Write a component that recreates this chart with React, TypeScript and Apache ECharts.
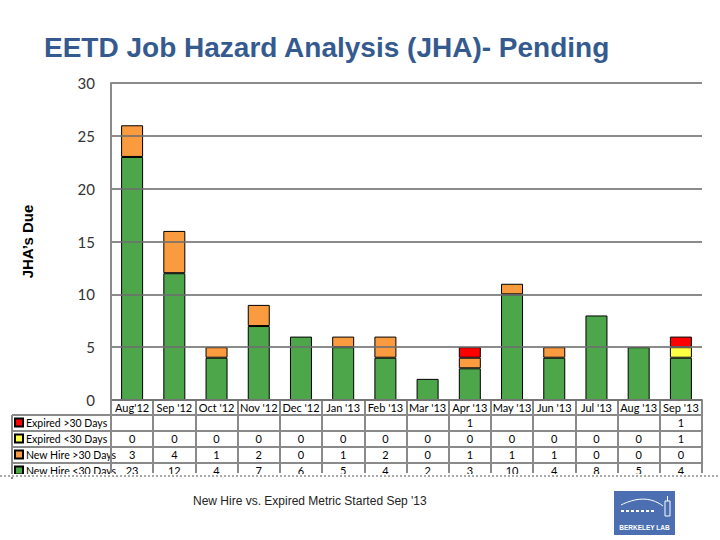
import React, { useEffect, useRef } from "react";
import * as echarts from "echarts";

const months = ["Aug'12", "Sep '12", "Oct '12", "Nov '12", "Dec '12", "Jan '13", "Feb '13", "Mar '13", "Apr '13", "May '13", "Jun '13", "Jul '13", "Aug '13", "Sep '13"];
const newHireUnder30: (number | null)[] = [23, 12, 4, 7, 6, 5, 4, 2, 3, 10, 4, 8, 5, 4];
const newHireOver30: (number | null)[] = [3, 4, 1, 2, 0, 1, 2, 0, 1, 1, 1, 0, 0, 0];
const expiredUnder30: (number | null)[] = [0, 0, 0, 0, 0, 0, 0, 0, 0, 0, 0, 0, 0, 1];
const expiredOver30: (number | null)[] = [null, null, null, null, null, null, null, null, 1, null, null, null, null, 1];

const seriesNames = ["New Hire <30 Days", "New Hire >30 Days", "Expired <30 Days", "Expired >30 Days"];
const seriesColors = ["#4EA64A", "#FB9B3F", "#FFFF44", "#FF0000"];
const seriesData = [newHireUnder30, newHireOver30, expiredUnder30, expiredOver30];

const yMin = 0;
const yMax = 30;
const yInterval = 5;

const GRID_LEFT = 111;
const GRID_RIGHT = 702;
const GRID_TOP = 83;
const GRID_BOTTOM = 400;
const HEADER_H = 15;
const ROW_H = 16;
const LINE_COLOR = "#8a8a8a";
const TABLE_FONT = "Lato";
const TABLE_SIZE = 11;

export default function App() {
  const ref = useRef<HTMLDivElement>(null);
  useEffect(() => {
    document.body.style.margin = "0";
    if (!ref.current) return;
    const chart = echarts.init(ref.current, undefined, { renderer: "svg" });

    // table rows, top to bottom
    const rowOrder = [3, 2, 1, 0];
    const rowAxes = rowOrder.map((si, i) => {
      const last = i === rowOrder.length - 1;
      return {
        type: "category",
        gridIndex: 0,
        position: "bottom",
        offset: HEADER_H + i * ROW_H,
        data: seriesData[si].map((v) => (v === null ? "" : String(v))),
        axisLine: { show: true, lineStyle: { color: LINE_COLOR, width: 2 } },
        axisTick: { show: true, length: last ? 10 : ROW_H, lineStyle: { color: LINE_COLOR, width: 2 } },
        axisLabel: { show: true, margin: 2, fontSize: TABLE_SIZE, fontFamily: TABLE_FONT, color: "#000", interval: 0 },
        splitLine: { show: false },
        z: 5,
      };
    });

    const tableTop = GRID_BOTTOM + HEADER_H;
    const graphics: any[] = [];
    // legend column borders
    for (let i = 0; i < 4; i++) {
      graphics.push({
        type: "line",
        z: 50,
        shape: { x1: 12, y1: tableTop + i * ROW_H, x2: GRID_LEFT, y2: tableTop + i * ROW_H },
        style: { stroke: LINE_COLOR, lineWidth: 2 },
      });
    }
    graphics.push({
      type: "line",
      z: 50,
      shape: { x1: 12, y1: tableTop, x2: 12, y2: tableTop + 4 * ROW_H },
      style: { stroke: LINE_COLOR, lineWidth: 2 },
    });
    // clip of the table bottom
    graphics.push({ type: "rect", z: 100, shape: { x: 0, y: 474, width: 720, height: 3 }, style: { fill: "#fff" } });
    graphics.push({
      type: "line",
      z: 101,
      shape: { x1: 0, y1: 476, x2: 720, y2: 476 },
      style: { stroke: "#555", lineWidth: 1, lineDash: [2, 2] },
    });
    // logo
    graphics.push({
      type: "group",
      z: 60,
      children: [
        { type: "rect", shape: { x: 614, y: 491, width: 61, height: 44 }, style: { fill: "#4B6FB1" } },
        {
          type: "bezierCurve",
          shape: { x1: 621, y1: 505, cpx1: 635, cpy1: 498, cpx2: 650, cpy2: 496, x2: 663, y2: 506 },
          style: { stroke: "#fff", lineWidth: 1, fill: null },
        },
        { type: "line", shape: { x1: 621, y1: 511, x2: 656, y2: 511 }, style: { stroke: "#fff", lineWidth: 2, lineDash: [3, 2] } },
        { type: "rect", shape: { x: 665, y: 501, width: 5, height: 15 }, style: { fill: null, stroke: "#fff", lineWidth: 1 } },
        { type: "line", shape: { x1: 667.5, y1: 496, x2: 667.5, y2: 501 }, style: { stroke: "#fff", lineWidth: 1 } },
        {
          type: "text",
          style: { x: 644.5, y: 527, text: "BERKELEY LAB", fill: "#fff", fontSize: 6.5, fontWeight: "bold", fontFamily: "Liberation Sans", align: "center", verticalAlign: "middle" },
        },
      ],
    });

    const option: any = {
      animation: false,
      backgroundColor: "#fff",
      title: [
        {
          text: "EETD Job Hazard Analysis (JHA)- Pending",
          left: 44,
          top: 33,
          padding: 0,
          textStyle: { fontFamily: "Liberation Sans", fontSize: 28, fontWeight: "bold", color: "#355A90" },
        },
        {
          text: "New Hire vs. Expired Metric Started Sep '13",
          left: 193,
          top: 495,
          padding: 0,
          textStyle: { fontFamily: "Liberation Sans", fontSize: 12, fontWeight: "normal", color: "#222" },
        },
      ],
      legend: {
        orient: "vertical",
        left: 14,
        top: tableTop + 2,
        padding: 0,
        itemWidth: 8,
        itemHeight: 8,
        itemGap: 5,
        icon: "rect",
        data: [...seriesNames].reverse(),
        textStyle: { fontFamily: TABLE_FONT, fontSize: 10.5, color: "#000", lineHeight: 11, padding: [0, 0, 0, -2] },
        selectedMode: false,
      },
      grid: { left: GRID_LEFT, right: 720 - GRID_RIGHT, top: GRID_TOP, bottom: 540 - GRID_BOTTOM, containLabel: false },
      xAxis: [
        {
          type: "category",
          data: months,
          position: "bottom",
          axisLine: { show: true, lineStyle: { color: LINE_COLOR, width: 2 } },
          axisTick: { show: true, length: HEADER_H, lineStyle: { color: LINE_COLOR, width: 2 } },
          axisLabel: { margin: 2, fontSize: TABLE_SIZE, fontFamily: TABLE_FONT, color: "#000", interval: 0 },
          z: 5,
        },
        ...rowAxes,
      ],
      yAxis: {
        type: "value",
        min: yMin,
        max: yMax,
        interval: yInterval,
        name: "JHA’s Due",
        nameLocation: "middle",
        nameRotate: 90,
        nameGap: 76,
        nameTextStyle: { fontFamily: "Liberation Sans", fontSize: 15, fontWeight: "bold", color: "#000" },
        axisLine: { show: true, lineStyle: { color: LINE_COLOR, width: 2 } },
        axisTick: { show: false },
        axisLabel: { margin: 16, fontSize: 15, fontFamily: TABLE_FONT, color: "#333" },
        splitLine: { show: true, lineStyle: { color: "rgba(110,110,110,0.8)", width: 2 } },
        z: 10,
      },
      series: seriesNames.map((name, i) => ({
        name,
        type: "bar",
        stack: "total",
        xAxisIndex: 0,
        barWidth: 22,
        itemStyle: { color: seriesColors[i], borderColor: "#000", borderWidth: 1 },
        data: seriesData[i].map((v) => (v === null || v === 0 ? "-" : v)),
      })),
      graphic: graphics,
    };
    chart.setOption(option);
    return () => chart.dispose();
  }, []);
  return <div ref={ref} style={{ width: 720, height: 540 }} />;
}
